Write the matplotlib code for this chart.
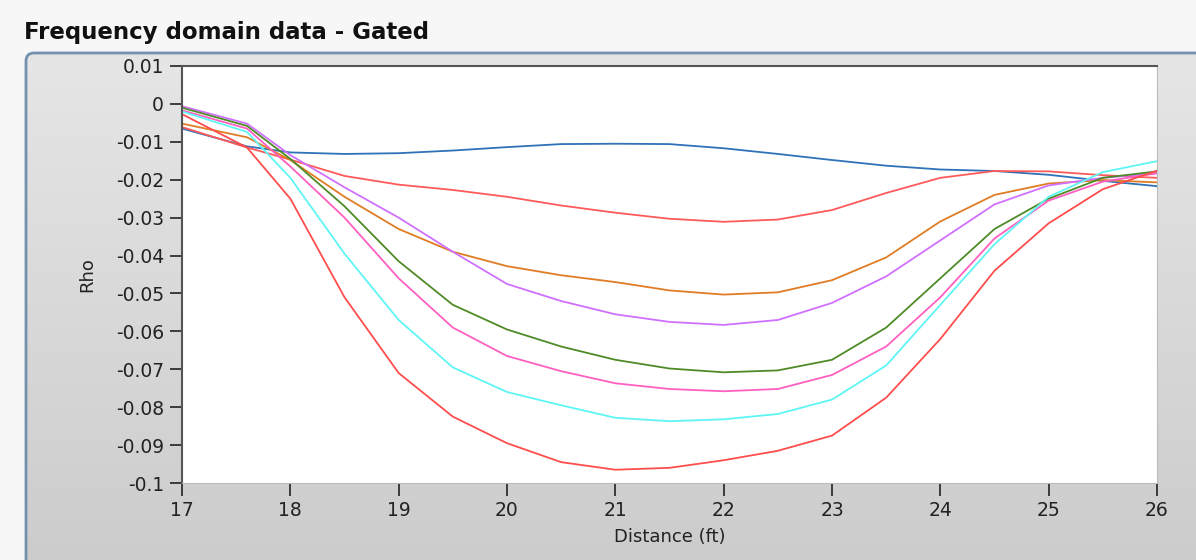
import numpy as np
import matplotlib
matplotlib.use('Agg')
import matplotlib.pyplot as plt
from matplotlib.patches import FancyBboxPatch

plt.rcParams['axes.unicode_minus'] = False
plt.rcParams['font.family'] = ['DejaVu Sans']

# distance (ft)
dist = [17, 17.6, 18, 18.5, 19, 19.5, 20, 20.5, 21, 21.5, 22, 22.5, 23, 23.5, 24, 24.5, 25, 25.5, 26]

blue = [-0.0065, -0.0112, -0.0128, -0.0132, -0.0130, -0.0123, -0.0114, -0.0106, -0.0105, -0.0106,
        -0.0117, -0.0132, -0.0148, -0.0163, -0.0173, -0.0177, -0.0187, -0.0203, -0.0217]
red_a = [-0.0061, -0.0115, -0.0147, -0.0190, -0.0213, -0.0227, -0.0245, -0.0268, -0.0287, -0.0303,
         -0.0311, -0.0305, -0.0280, -0.0235, -0.0195, -0.0177, -0.0178, -0.0188, -0.0195]
orange = [-0.0052, -0.0088, -0.0148, -0.0245, -0.0330, -0.0390, -0.0428, -0.0452, -0.0470, -0.0492,
          -0.0503, -0.0497, -0.0465, -0.0405, -0.0310, -0.0240, -0.0210, -0.0201, -0.0207]
violet = [-0.0006, -0.0052, -0.0135, -0.0220, -0.0300, -0.0390, -0.0475, -0.0520, -0.0555, -0.0575,
          -0.0583, -0.0570, -0.0525, -0.0455, -0.0360, -0.0265, -0.0215, -0.0195, -0.0183]
green = [-0.0010, -0.0058, -0.0145, -0.0270, -0.0415, -0.0530, -0.0595, -0.0640, -0.0675, -0.0698,
         -0.0708, -0.0703, -0.0675, -0.0590, -0.0460, -0.0330, -0.0250, -0.0195, -0.0178]
pink = [-0.0017, -0.0065, -0.0165, -0.0300, -0.0460, -0.0590, -0.0665, -0.0705, -0.0737, -0.0752,
        -0.0758, -0.0752, -0.0715, -0.0640, -0.0510, -0.0355, -0.0255, -0.0205, -0.0183]
cyan = [-0.0020, -0.0074, -0.0195, -0.0395, -0.0570, -0.0695, -0.0760, -0.0795, -0.0828, -0.0837,
        -0.0832, -0.0818, -0.0780, -0.0690, -0.0530, -0.0370, -0.0245, -0.0180, -0.0151]
red_b = [-0.0027, -0.0115, -0.0250, -0.0510, -0.0710, -0.0825, -0.0895, -0.0945, -0.0965, -0.0960,
         -0.0940, -0.0915, -0.0875, -0.0775, -0.0620, -0.0440, -0.0315, -0.0225, -0.0176]

series = [(blue, '#2f72b8'), (red_a, '#ff5a5a'), (orange, '#e07c24'), (violet, '#d070ff'),
          (green, '#4e8b27'), (pink, '#ff5fc0'), (cyan, '#5ef5f5'), (red_b, '#ff4d4d')]

yticks = [0.01, 0, -0.01, -0.02, -0.03, -0.04, -0.05, -0.06, -0.07, -0.08, -0.09, -0.1]
xticks = [17, 18, 19, 20, 21, 22, 23, 24, 25, 26]

W, H = 1196, 560
fig = plt.figure(figsize=(W / 100, H / 100), dpi=100, facecolor='#f7f7f7')

# grey panel behind the graph
bg = fig.add_axes([0, 0, 1, 1])
bg.set_xlim(0, W)
bg.set_ylim(H, 0)
bg.axis('off')
grad = np.linspace(0, 1, 256).reshape(-1, 1)
im = bg.imshow(grad, cmap=matplotlib.colors.LinearSegmentedColormap.from_list('g', ['#e6e6e6', '#cbcbcb']),
               extent=[25, W + 20, H + 20, 52], aspect='auto', zorder=1)
panel = FancyBboxPatch((26, 53), W, H, boxstyle='round,pad=0,rounding_size=8',
                       facecolor='none', edgecolor='#7390ad', linewidth=2, zorder=2)
bg.add_patch(panel)
im.set_clip_path(panel)
bg.text(24, 32, 'Frequency domain data - Gated', fontsize=16.5, fontweight='bold',
        color='#111111', va='center', ha='left')

ax = fig.add_axes([182 / W, 1 - 483 / H, (1157 - 182) / W, (483 - 66) / H])
for vals, col in series:
    ax.plot(dist, vals, color=col, linewidth=1.3)

ax.set_xlim(17, 26)
ax.set_ylim(-0.1, 0.01)
ax.set_xticks(xticks)
ax.set_yticks(yticks)
ax.set_yticklabels(['{:g}'.format(v) for v in yticks])
ax.tick_params(direction='out', length=9, width=1.2, colors='#222222', labelsize=13.5, pad=4)
for s in ['left', 'top']:
    ax.spines[s].set_color('#555555')
    ax.spines[s].set_linewidth(1.5)
for s in ['right', 'bottom']:
    ax.spines[s].set_color('#bbbbbb')
    ax.spines[s].set_linewidth(0.8)
ax.set_xlabel('Distance (ft)', fontsize=13, color='#222222', labelpad=6)
ax.set_ylabel('Rho', fontsize=13, color='#222222', labelpad=14)

fig.savefig('out.png', dpi=100, facecolor=fig.get_facecolor())
